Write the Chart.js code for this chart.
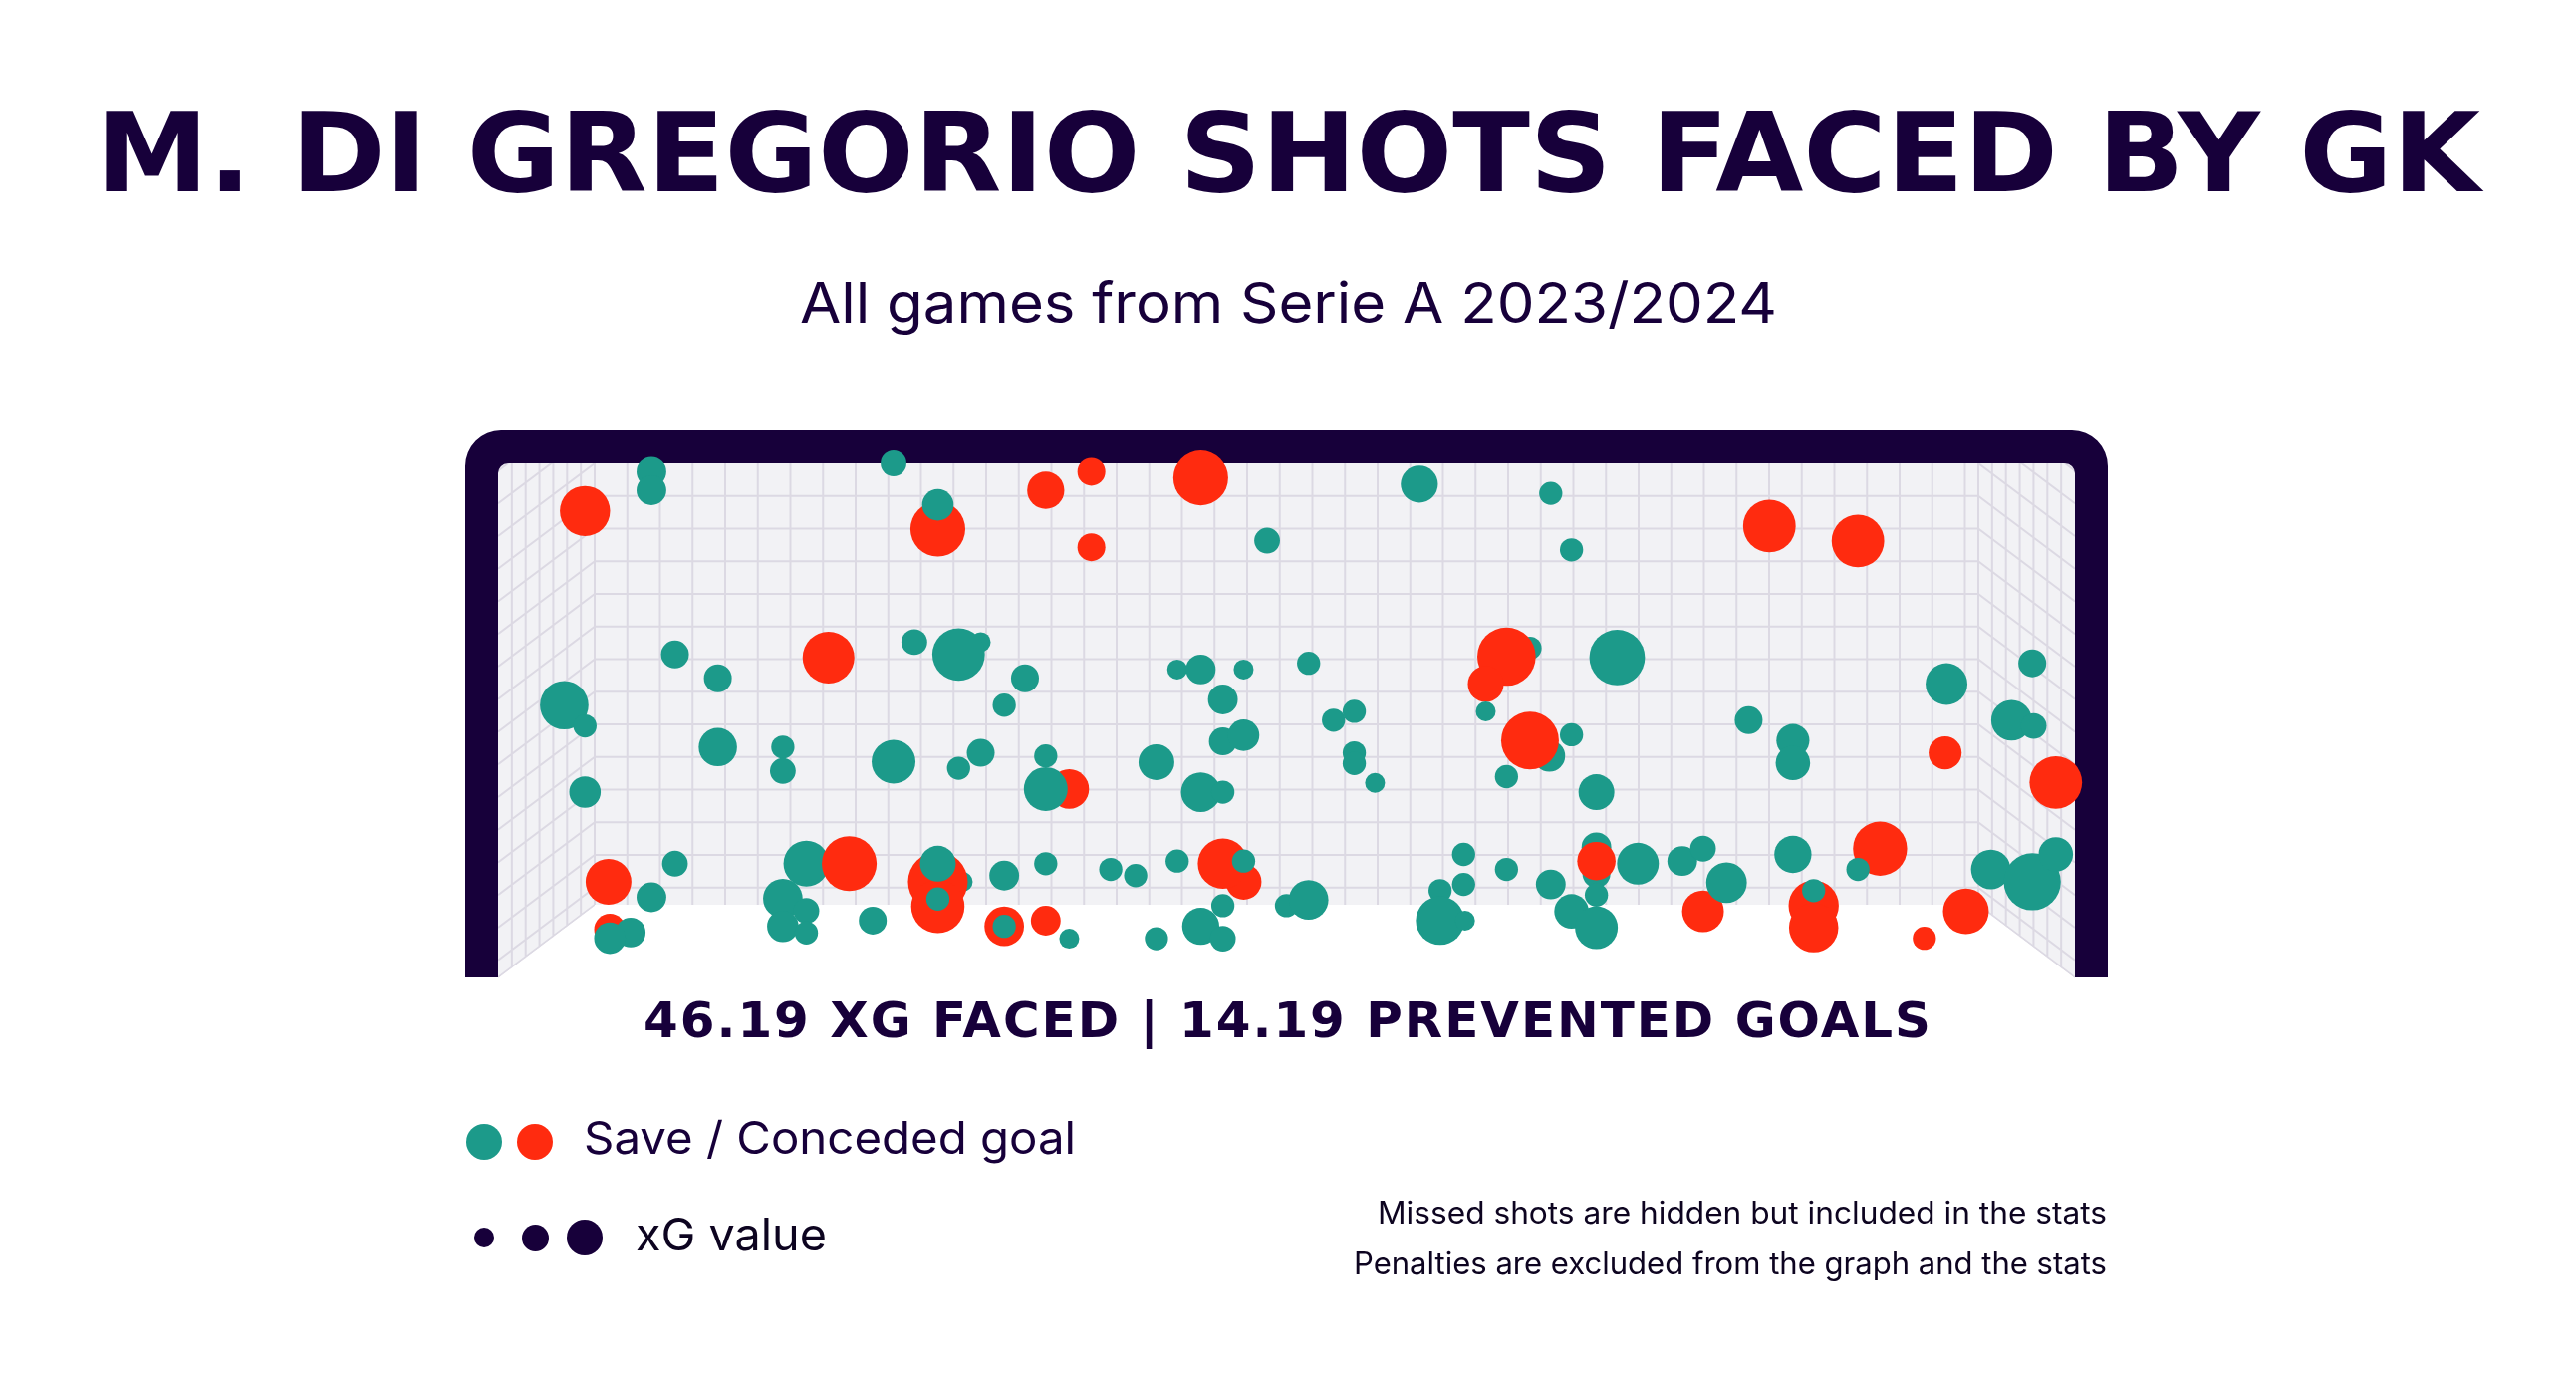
<!DOCTYPE html>
<html>
<head>
<meta charset="utf-8">
<script src="https://cdn.jsdelivr.net/npm/chart.js@4.4.1/dist/chart.umd.min.js"></script>
<style>
  body { margin: 0; background: #fff; }
  #page { position: relative; width: 2586px; height: 1383px; overflow: hidden; background: #fff; }
  #shots { position: absolute; left: 0; top: 0; }
  .txt { position: absolute; left: 0; top: 0; white-space: nowrap; line-height: 1; color: #17003a; }
  .dot { position: absolute; border-radius: 50%; }
</style>
</head>
<body>
<div id="page">
  <canvas id="shots" width="2586" height="1383"></canvas>
  <div class="txt" id="title" style="font: bold 110px 'DejaVu Sans'">M. DI GREGORIO SHOTS FACED BY GK</div>
  <div class="txt" id="subtitle" style="font: 400 56px 'Inter'">All games from Serie A 2023/2024</div>
  <div class="txt" id="stats" style="font: bold 50px 'DejaVu Sans'; letter-spacing: 2px">46.19 XG FACED | 14.19 PREVENTED GOALS</div>
  <div class="txt" id="legend1" style="font: 400 45px 'Inter'">Save / Conceded goal</div>
  <div class="txt" id="legend2" style="font: 400 45px 'Inter'; color: #0d0420">xG value</div>
  <div class="txt" id="foot1" style="font: 400 31px 'Inter'; color: #0d0420">Missed shots are hidden but included in the stats</div>
  <div class="txt" id="foot2" style="font: 400 31px 'Inter'; color: #0d0420">Penalties are excluded from the graph and the stats</div>
</div>
<script>
// shot locations: % of goal width (left post = 0) and % of goal height (ground = 0)
const shotX = [4.1, 4.1, -0.7, 21.6, 24.8, 24.8, 32.6, 35.9, 35.9, 43.8,
  59.6, 48.6, 69.1, 70.6, 84.9, 91.3, 5.8, 8.9, 16.9, 27.9,
  23.1, 26.3, 31.1, 29.6, -2.2, -0.7, 8.9, 13.6, 13.6, 21.6,
  27.9, 26.3, 32.6, 34.3, 32.6, -0.7, 42.1, 43.8, 46.9, 51.6,
  45.4, 53.4, 54.9, 45.4, 46.9, 40.6, 54.9, 54.9, 56.4, 43.8,
  45.4, 67.6, 65.9, 64.4, 64.4, 73.9, 69.0, 67.6, 70.6, 65.9,
  72.4, 83.4, 86.6, 86.6, 97.7, 103.9, 102.4, 104.0, 97.6, 105.6,
  5.8, 1.0, 4.1, 1.1, 2.6, 1.1, 15.3, 18.4, 13.6, 15.3,
  13.6, 15.3, 20.1, 26.6, 24.8, 24.8, 24.8, 24.8, 29.6, 29.6,
  29.6, 32.6, 32.6, 34.3, 37.3, 39.1, 42.1, 46.9, 45.4, 46.9,
  45.4, 43.8, 45.4, 40.6, 50.0, 51.6, 61.1, 61.1, 62.9, 62.8,
  62.8, 65.9, 69.1, 72.4, 72.4, 72.4, 75.4, 72.4, 70.6, 72.4,
  78.6, 80.1, 80.1, 81.8, 86.6, 92.9, 91.3, 88.1, 88.1, 88.1,
  96.1, 99.1, 100.9, 103.9, 105.6];
const shotY = [98.1, 93.9, 89.2, 100.0, 85.1, 90.6, 93.9, 98.1, 81.0, 96.7,
  95.3, 82.5, 93.2, 80.4, 85.8, 82.4, 56.7, 51.3, 56.0, 59.5,
  59.5, 56.7, 51.3, 45.2, 45.2, 40.5, 35.7, 35.7, 30.3, 32.4,
  34.4, 30.9, 33.7, 26.2, 26.2, 25.5, 53.3, 53.3, 53.3, 54.7,
  46.5, 41.8, 43.8, 37.0, 38.4, 32.3, 34.4, 32.0, 27.6, 25.5,
  25.5, 58.1, 56.2, 50.0, 43.8, 56.0, 33.7, 37.2, 38.5, 29.0,
  25.5, 41.8, 37.2, 32.1, 50.0, 54.7, 41.8, 40.5, 34.4, 27.7,
  9.3, 5.2, 1.7, -5.6, -6.3, -7.6, 9.3, 9.3, 1.4, -1.4,
  -4.9, -6.4, -3.6, 5.2, 5.2, -0.4, 9.3, 1.3, 6.6, -4.9,
  -4.9, 9.3, -3.6, -7.7, 8.0, 6.6, 9.9, 5.2, 9.3, 9.9,
  -0.2, -4.9, -7.7, -7.7, -0.2, 1.1, 3.2, -3.6, -3.6, 11.4,
  4.6, 8.0, 4.6, 13.0, 7.0, 9.9, 9.3, 2.2, -1.5, -5.2,
  9.9, 12.7, -1.5, 5.0, 11.4, 12.7, 8.0, -0.2, -5.2, 3.2,
  -7.6, -1.5, 8.0, 5.2, 11.4];
const shotXG = [0.05, 0.05, 0.23, 0.03, 0.29, 0.06, 0.10, 0.04, 0.04, 0.29,
  0.10, 0.03, 0.02, 0.02, 0.26, 0.26, 0.04, 0.04, 0.25, 0.01,
  0.03, 0.26, 0.04, 0.02, 0.21, 0.02, 0.11, 0.02, 0.03, 0.16,
  0.04, 0.02, 0.02, 0.12, 0.16, 0.06, 0.01, 0.05, 0.01, 0.02,
  0.05, 0.02, 0.02, 0.04, 0.06, 0.09, 0.02, 0.02, 0.01, 0.12,
  0.02, 0.02, 0.34, 0.09, 0.01, 0.30, 0.06, 0.33, 0.02, 0.02,
  0.09, 0.04, 0.07, 0.08, 0.14, 0.04, 0.13, 0.03, 0.07, 0.26,
  0.03, 0.18, 0.05, 0.06, 0.05, 0.06, 0.18, 0.29, 0.12, 0.03,
  0.06, 0.02, 0.04, 0.01, 0.36, 0.27, 0.09, 0.02, 0.05, 0.12,
  0.02, 0.02, 0.05, 0.01, 0.02, 0.02, 0.02, 0.09, 0.23, 0.02,
  0.02, 0.10, 0.03, 0.02, 0.02, 0.12, 0.02, 0.21, 0.01, 0.02,
  0.02, 0.02, 0.05, 0.05, 0.04, 0.11, 0.14, 0.02, 0.08, 0.15,
  0.05, 0.03, 0.14, 0.13, 0.10, 0.28, 0.02, 0.23, 0.22, 0.02,
  0.02, 0.18, 0.12, 0.32, 0.08];
// 1 = conceded goal, 0 = save
const shotGoal = [0, 0, 1, 0, 1, 0, 1, 1, 1, 1,
  0, 0, 0, 0, 1, 1, 0, 0, 1, 0,
  0, 0, 0, 0, 0, 0, 0, 0, 0, 0,
  0, 0, 0, 1, 0, 0, 0, 0, 0, 0,
  0, 0, 0, 0, 0, 0, 0, 0, 0, 0,
  0, 0, 1, 1, 0, 0, 0, 1, 0, 0,
  0, 0, 0, 0, 0, 0, 0, 0, 1, 1,
  0, 1, 0, 1, 0, 0, 0, 1, 0, 0,
  0, 0, 0, 0, 1, 1, 0, 0, 0, 1,
  0, 0, 1, 0, 0, 0, 0, 1, 1, 0,
  0, 0, 0, 0, 0, 0, 0, 0, 0, 0,
  0, 0, 0, 0, 0, 1, 0, 0, 0, 0,
  0, 0, 1, 0, 0, 1, 0, 1, 1, 0,
  1, 1, 0, 0, 0];

const navy = '#17003a';
const teal = '#1c9a8a';
const red = '#ff2b0f';

// where the back of the net (0..100 on both axes) sits on the page
const W = 2586, H = 1383;
const wall = { left: 597, right: 1986, top: 465, bottom: 908 };
const pxX = (wall.right - wall.left) / 100;
const pxY = (wall.bottom - wall.top) / 100;

function xgRadius(xg) {
  return 6 + 40 * Math.sqrt(xg);
}

const points = shotX.map(function (x, i) {
  return { x: x, y: shotY[i], r: xgRadius(shotXG[i]) };
});

// goal frame + net drawn behind the bubbles
const goalNet = {
  id: 'goalNet',
  beforeDatasetsDraw(chart) {
    const ctx = chart.ctx;
    const sx = chart.scales.x, sy = chart.scales.y;
    const a = {
      left: sx.getPixelForValue(0), right: sx.getPixelForValue(100),
      top: sy.getPixelForValue(100), bottom: sy.getPixelForValue(0)
    };
    const dx = 97, dy = 73, cell = 32.75, post = 33;
    const fl = a.left - dx, fr = a.right + dx, fb = a.bottom + dy;
    ctx.save();

    ctx.fillStyle = '#f2f2f5';
    ctx.beginPath();
    ctx.moveTo(fl, a.top);
    ctx.lineTo(fr, a.top);
    ctx.lineTo(fr, fb);
    ctx.lineTo(a.right, a.bottom);
    ctx.lineTo(a.left, a.bottom);
    ctx.lineTo(fl, fb);
    ctx.closePath();
    ctx.fill();

    ctx.strokeStyle = '#dcd9e3';
    ctx.lineWidth = 2;
    ctx.beginPath();
    for (let x = a.left; x <= a.right; x += cell) {
      ctx.moveTo(x, a.top);
      ctx.lineTo(x, a.bottom);
    }
    ctx.moveTo(a.right, a.top);
    ctx.lineTo(a.right, a.bottom);
    for (let y = a.top + cell; y < a.bottom; y += cell) {
      ctx.moveTo(a.left, y);
      ctx.lineTo(a.right, y);
    }
    ctx.stroke();

    [[a.left, fl], [a.right, fr]].forEach(function (side) {
      const bx = side[0], fx = side[1];
      ctx.save();
      ctx.beginPath();
      ctx.moveTo(fx, a.top);
      ctx.lineTo(bx, a.top);
      ctx.lineTo(bx, a.bottom + 1);
      ctx.lineTo(fx, fb + 1);
      ctx.closePath();
      ctx.clip();
      ctx.beginPath();
      for (let k = 1; k < 7; k++) {
        const x = fx + (bx - fx) * k / 7;
        ctx.moveTo(x, a.top);
        ctx.lineTo(x, fb);
      }
      for (let y = a.top - 3 * cell; y < a.bottom; y += cell) {
        ctx.moveTo(bx, y);
        ctx.lineTo(fx, y + dy);
      }
      ctx.moveTo(bx, a.bottom);
      ctx.lineTo(fx, fb);
      ctx.stroke();
      ctx.restore();
    });

    const oL = fl - post, oR = fr + post, oT = a.top - post, R = 36, r = 10;
    ctx.fillStyle = navy;
    ctx.beginPath();
    ctx.moveTo(oL, fb);
    ctx.lineTo(oL, oT + R);
    ctx.arcTo(oL, oT, oL + R, oT, R);
    ctx.lineTo(oR - R, oT);
    ctx.arcTo(oR, oT, oR, oT + R, R);
    ctx.lineTo(oR, fb);
    ctx.lineTo(fr, fb);
    ctx.lineTo(fr, a.top + r);
    ctx.arcTo(fr, a.top, fr - r, a.top, r);
    ctx.lineTo(fl + r, a.top);
    ctx.arcTo(fl, a.top, fl, a.top + r, r);
    ctx.lineTo(fl, fb);
    ctx.closePath();
    ctx.fill();
    ctx.restore();
  }
};

new Chart(document.getElementById('shots'), {
  type: 'bubble',
  data: {
    datasets: [{
      data: points,
      backgroundColor: function (c) { return shotGoal[c.dataIndex] ? red : teal; },
      borderWidth: 0,
      clip: false
    }]
  },
  options: {
    responsive: false,
    devicePixelRatio: 1,
    animation: false,
    events: [],
    layout: { padding: 0, autoPadding: false },
    scales: {
      x: { type: 'linear', min: -wall.left / pxX, max: (W - wall.left) / pxX, display: false },
      y: { type: 'linear', min: -(H - wall.bottom) / pxY, max: 100 + wall.top / pxY, display: false }
    },
    plugins: {
      legend: { display: false },
      tooltip: { enabled: false }
    }
  },
  plugins: [goalNet]
});

// put a text block on a baseline and stretch it to the width seen in the picture
function place(id, x, baseline, width, align) {
  const el = document.getElementById(id);
  const probe = document.createElement('span');
  probe.style.cssText = 'display:inline-block;width:0;height:0;vertical-align:baseline';
  el.appendChild(probe);
  const box = el.getBoundingClientRect();
  const base = probe.getBoundingClientRect().top - box.top;
  el.style.transformOrigin = '0 0';
  el.style.transform = 'scaleX(' + (width / box.width) + ')';
  let left = x;
  if (align === 'center') left = x - width / 2;
  if (align === 'right') left = x - width;
  el.style.left = left + 'px';
  el.style.top = (baseline - base) + 'px';
}

place('title', 1293, 192, 2394, 'center');
place('subtitle', 803, 324, 981, 'left');
place('stats', 646, 1041, 1294, 'left');
place('legend1', 586, 1158, 494, 'left');
place('legend2', 638, 1255, 192, 'left');
place('foot1', 2115, 1228, 732, 'right');
place('foot2', 2115, 1279, 756, 'right');

// legend dots
const page = document.getElementById('page');
[[486, 1146, 18, teal], [537, 1146, 18, red], [486, 1242, 10, navy], [537, 1242, 13.5, navy], [587, 1242, 18, navy]].forEach(function (d) {
  const el = document.createElement('div');
  el.className = 'dot';
  el.style.left = (d[0] - d[2]) + 'px';
  el.style.top = (d[1] - d[2]) + 'px';
  el.style.width = el.style.height = (2 * d[2]) + 'px';
  el.style.background = d[3];
  page.appendChild(el);
});
</script>
</body>
</html>
